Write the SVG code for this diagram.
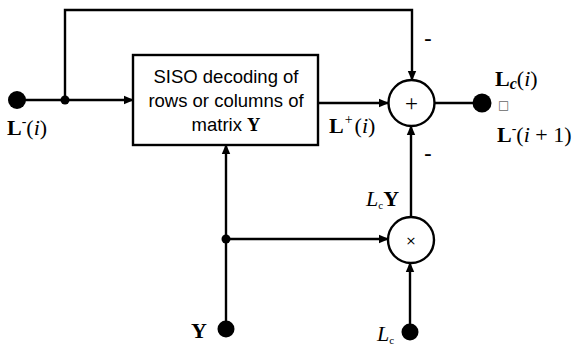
<svg xmlns="http://www.w3.org/2000/svg" width="573" height="347" viewBox="0 0 573 347">
<defs>
<marker id="arr" markerWidth="10" markerHeight="10" refX="9" refY="5" orient="auto" markerUnits="userSpaceOnUse">
<path d="M0,0.8 L10,5 L0,9.2 Z" fill="#000"/>
</marker>
<style>
.ln{fill:none;stroke:#000;stroke-width:2.4}
.nd{fill:#fff;stroke:#000;stroke-width:2.4}
.dot{fill:#000}
.bx{font-family:"Liberation Sans",Arial,sans-serif;font-size:18.5px;fill:#000}
.lb{font-family:"Liberation Serif","Times New Roman",serif;font-size:22px;fill:#000}
.b{font-weight:bold}
.it{font-style:italic}
</style>
</defs>
<rect width="573" height="347" fill="#fff"/>
<g id="connectors">
<path class="ln" d="M17,100 H133" marker-end="url(#arr)"/>
<path class="ln" d="M65,100 V10 H412 V80" marker-end="url(#arr)"/>
<path class="ln" d="M318,103 H388" marker-end="url(#arr)"/>
<path class="ln" d="M435,103 H482"/>
<path class="ln" d="M411,217 V126" marker-end="url(#arr)"/>
<path class="ln" d="M226,330 V145" marker-end="url(#arr)"/>
<path class="ln" d="M226,239 H388" marker-end="url(#arr)"/>
<path class="ln" d="M410,332 V263" marker-end="url(#arr)"/>
<circle class="dot" cx="65" cy="100" r="4.5"/>
<circle class="dot" cx="226" cy="239" r="4.5"/>
</g>
<g id="in_L">
<circle class="dot" cx="17" cy="100" r="9"/>
<text class="lb" x="7" y="135"><tspan class="b">L</tspan><tspan dy="-9" font-size="14">-</tspan><tspan dy="9">(</tspan><tspan class="it">i</tspan>)</text>
</g>
<g id="siso">
<rect class="nd" x="133" y="55" width="185" height="90"/>
<text class="bx" x="226" y="83" text-anchor="middle">SISO decoding of</text>
<text class="bx" x="226" y="107" text-anchor="middle">rows or columns of</text>
<text class="bx" x="226" y="131" text-anchor="middle">matrix <tspan font-family="Liberation Serif,serif" font-weight="bold">Y</tspan></text>
</g>
<g id="sum">
<circle class="nd" cx="411.5" cy="103" r="23"/>
<text x="411.5" y="111" text-anchor="middle" font-family="Liberation Serif,serif" font-size="23">+</text>
<text class="lb b" x="428" y="45" text-anchor="middle">-</text>
<text class="lb b" x="428" y="160" text-anchor="middle">-</text>
</g>
<g id="lplus">
<text class="lb" x="329" y="133"><tspan class="b">L</tspan><tspan dy="-9" font-size="14" dx="1">+</tspan><tspan dy="9" dx="2">(</tspan><tspan class="it">i</tspan>)</text>
</g>
<g id="out">
<circle class="dot" cx="482" cy="103" r="9.5"/>
<text class="lb" x="495" y="86"><tspan class="b">L</tspan><tspan class="b it" font-size="16" dy="3">c</tspan><tspan dy="-3">(</tspan><tspan class="it">i</tspan>)</text>
<text x="498" y="109" font-family="DejaVu Sans,sans-serif" font-size="12" fill="#666">□</text>
<text class="lb" x="497" y="142"><tspan class="b">L</tspan><tspan dy="-9" font-size="14">-</tspan><tspan dy="9">(</tspan><tspan class="it">i</tspan> + 1)</text>
</g>
<g id="mul">
<circle class="nd" cx="411" cy="240" r="23"/>
<text x="411" y="245" text-anchor="middle" font-family="DejaVu Sans,sans-serif" font-size="13">×</text>
<text class="lb" x="366" y="206"><tspan class="it">L</tspan><tspan font-size="11" dy="3">c</tspan><tspan class="b" dy="-3">Y</tspan></text>
</g>
<g id="in_Y">
<circle class="dot" cx="226" cy="329" r="8.5"/>
<text class="lb b" x="191" y="338">Y</text>
</g>
<g id="in_Lc">
<circle class="dot" cx="410" cy="332" r="8.5"/>
<text class="lb" x="377" y="341"><tspan class="it">L</tspan><tspan font-size="11" dy="3">c</tspan></text>
</g>
</svg>
